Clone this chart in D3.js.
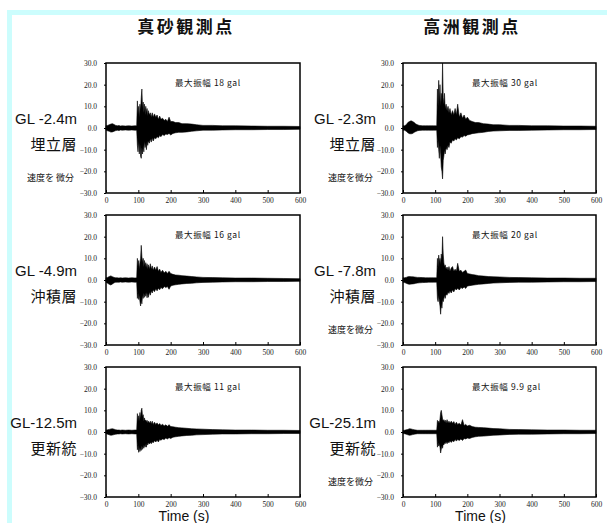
<!DOCTYPE html>
<html lang="ja">
<head>
<meta charset="UTF-8">
<title>真砂・高洲 観測点 加速度波形</title>
<script src="https://d3js.org/d3.v7.min.js"></script>
<style>
  body { margin: 0; background: #fff; }
  svg { display: block; }
  .tick text { font-family: "Liberation Serif", "DejaVu Serif", serif; font-size: 7.5px; fill: #222; }
  .lbl { font-family: "Liberation Sans", Arial, sans-serif; fill: #111; }
  .jp { font-family: "Noto Sans CJK JP", sans-serif; fill: #111; }
</style>
</head>
<body>
<div id="chart"></div>
<script>
// ---- data ----
const stations = ["真砂観測点", "高洲観測点"];
const depths = [["GL -2.4m", "GL -4.9m", "GL-12.5m"], ["GL -2.3m", "GL -7.8m", "GL-25.1m"]];
const layers = ["埋立層", "沖積層", "更新統"];
const maxAmp = [["18", "16", "11"], ["30", "20", "9.9"]];
const diffNote = [[true, false, false], [true, true, true]];
const yTicks = [-30, -20, -10, 0, 10, 20, 30];
const xTicks = [0, 100, 200, 300, 400, 500, 600];

// time points (s) for the waveform envelopes
const times = [0, 5, 10, 15, 20, 25, 30, 35, 40, 45, 50,
  60, 70, 80, 90, 95,
  97, 99, 101, 103, 105, 107, 109, 111, 113, 115, 117, 119, 121, 123, 125, 127, 129, 131,
  134, 137, 140, 143, 146,
  150, 154, 158, 162, 166, 170,
  175, 180, 185, 190, 195, 200,
  207, 215, 225, 235, 250, 265, 280,
  300, 330, 360, 400, 450, 500, 550, 600];

// 真砂 GL -2.4m
const masagoHi1 = [1.0, 1.2, 1.5, 1.8, 2.0, 1.6, 1.2, 1.0, 1.1, 0.9, 1.0,
  0.9, 1.0, 0.9, 1.0, 1.0,
  12.5, 6, 10, 5, 11, 8, 14, 18, 9, 12, 7, 11, 6, 10, 7, 9, 5.5, 8,
  6, 7, 5, 7, 5,
  6.5, 5, 6, 4, 5.5, 4,
  4.5, 3.5, 4, 3, 5, 3,
  3, 2.5, 2.5, 2, 2, 1.8, 1.5,
  1.2, 1.2, 1, 1, 0.9, 0.8, 0.8, 0.7];
const masagoLo1 = [-1.0, -1.3, -1.5, -1.9, -1.8, -1.5, -1.2, -1.0, -1.2, -0.9, -1.0,
  -0.9, -1.0, -0.9, -1.0, -1.0,
  -8, -11, -6, -12, -7, -13, -14, -9, -12, -8, -11, -6, -9, -7, -10, -6, -8, -6,
  -7, -5, -6.5, -4.5, -6,
  -4.5, -5, -4, -4.5, -3.5, -4,
  -3, -3.5, -2.8, -3, -2.5, -3.2,
  -2.5, -2.2, -2, -2, -1.8, -1.5, -1.3,
  -1, -1, -0.9, -0.8, -0.8, -0.7, -0.7, -0.6];

// 真砂 GL -4.9m
const masagoHi2 = [1.0, 1.2, 1.6, 1.9, 1.5, 1.2, 1.0, 1.0, 0.9, 1.0, 0.9,
  1.0, 0.9, 1.0, 0.9, 1.0,
  10, 6, 9, 5, 8, 10, 16, 11, 8, 10, 6, 9, 6, 8, 5.5, 7.5, 5, 7,
  5, 7.5, 5, 6.5, 4.5,
  6, 4.5, 6.2, 4, 5, 3.5,
  4.5, 3.2, 4, 3, 4, 3,
  2.6, 2.3, 2.2, 2, 1.8, 1.6, 1.4,
  1.2, 1.1, 1, 0.9, 0.9, 0.8, 0.7, 0.6];
const masagoLo2 = [-1.0, -1.5, -2.0, -2.3, -1.8, -1.3, -1.0, -1.0, -1.0, -0.9, -1.0,
  -0.9, -1.0, -0.9, -1.0, -1.0,
  -8.5, -6, -9, -7, -10, -12, -9, -11, -7, -8.5, -6, -8, -6, -7.5, -5.5, -8.2, -6, -8,
  -5.5, -7, -5, -6, -4.5,
  -5.4, -4, -5, -3.8, -4.5, -3.5,
  -4, -3, -3.5, -3, -4.3, -2.8,
  -2.4, -2.2, -2, -1.8, -1.6, -1.5, -1.3,
  -1.1, -1, -0.9, -0.8, -0.8, -0.7, -0.7, -0.6];

// 真砂 GL-12.5m
const masagoHi3 = [0.8, 1.0, 1.2, 1.4, 1.5, 1.3, 1.0, 0.9, 0.9, 0.8, 0.9,
  0.8, 0.9, 0.8, 0.9, 0.9,
  8.5, 5, 7.5, 5, 9, 6, 10, 11, 7, 8, 5, 6.5, 5, 5.5, 4.5, 5.4, 4, 5,
  4, 5, 3.8, 5, 3.5,
  4.5, 3.5, 4.2, 3.2, 3.9, 3,
  3.6, 2.8, 3.3, 2.6, 3.4, 2.5,
  2.4, 2.2, 2, 1.9, 1.7, 1.5, 1.4,
  1.3, 1.1, 1, 0.9, 0.9, 0.8, 0.8, 0.7];
const masagoLo3 = [-0.8, -1.0, -1.3, -1.5, -1.4, -1.2, -1.0, -0.9, -0.9, -0.8, -0.9,
  -0.8, -0.9, -0.8, -0.9, -0.9,
  -8.2, -6, -9.4, -7, -9, -7.5, -8.5, -6.5, -8, -6, -7.5, -6, -7, -5.5, -7, -5, -6, -5,
  -5.5, -4.8, -5.4, -4.5, -5,
  -4, -4.6, -3.8, -4.6, -3.5, -3.8,
  -3.2, -3.5, -2.8, -3.2, -2.6, -3,
  -2.4, -2.2, -2, -1.8, -1.6, -1.5, -1.3,
  -1.2, -1, -0.9, -0.9, -0.8, -0.8, -0.7, -0.7];

// 高洲 GL -2.3m
const takasuHi1 = [1.0, 1.0, 1.5, 2.5, 3.0, 3.3, 3.0, 2.5, 1.8, 1.5, 1.2,
  1.0, 1.0, 1.0, 1.0, 1.0,
  1.0, 1.0, 1.0, 1.0, 1.2, 18, 10, 22, 12, 20, 10, 16, 12, 30, 14, 11, 16, 9,
  11, 8, 10, 7, 9,
  6, 8, 6, 9, 6, 11,
  5, 7, 4.5, 6, 4, 5,
  3.5, 3, 2.5, 2.5, 2, 1.8, 1.5,
  1.5, 1.2, 1.2, 1, 1, 0.9, 0.9, 0.8];
const takasuLo1 = [-1.0, -1.0, -1.5, -2.2, -2.6, -2.7, -2.5, -2.0, -1.6, -1.3, -1.1,
  -1.0, -1.0, -1.0, -1.0, -1.0,
  -1.0, -1.0, -1.0, -1.0, -1.2, -9, -6, -10, -14, -8, -12, -18, -20, -23.5, -15, -13, -10, -12,
  -9, -10, -8, -9, -6.5,
  -7, -5.5, -6, -5, -5.5, -4.5,
  -5, -4, -4.2, -3.5, -3.8, -3.2,
  -3, -2.6, -2.4, -2.2, -2, -1.6, -1.4,
  -1.3, -1.1, -1.1, -1, -0.9, -0.8, -0.8, -0.7];

// 高洲 GL -7.8m
const takasuHi2 = [1.0, 1.0, 1.2, 1.5, 1.6, 1.5, 1.5, 1.4, 1.3, 1.2, 1.2,
  1.1, 1.0, 1.0, 1.0, 1.0,
  1.0, 1.0, 1.0, 1.0, 1.1, 10, 6, 11.5, 8, 10, 7, 12, 9, 20, 12, 8, 6, 7,
  5, 6, 4.5, 6.2, 4,
  5.5, 6.2, 4, 5, 4, 7.7,
  4, 4.5, 3.5, 4, 4.6, 3,
  2.8, 2.5, 2.3, 2, 1.8, 1.6, 1.5,
  1.4, 1.2, 1.1, 1, 0.9, 0.9, 0.8, 0.8];
const takasuLo2 = [-1.0, -1.2, -1.5, -1.8, -2.0, -1.9, -1.8, -1.7, -1.5, -1.4, -1.3,
  -1.2, -1.1, -1.0, -1.0, -1.0,
  -1.0, -1.0, -1.0, -1.0, -1.1, -8.5, -10, -7, -10, -12, -15.8, -11, -13, -9, -10, -8.5, -7, -8.5,
  -6.5, -7, -5.5, -6.2, -5,
  -6, -4.5, -5.5, -4, -4.6, -3.8,
  -4.6, -3.5, -3.9, -3.2, -3.9, -2.8,
  -2.6, -2.4, -2.2, -2, -1.8, -1.6, -1.4,
  -1.3, -1.1, -1, -1, -0.9, -0.8, -0.8, -0.7];

// 高洲 GL-25.1m
const takasuHi3 = [0.7, 0.8, 1.0, 1.2, 1.5, 1.4, 1.2, 1.0, 0.9, 0.8, 0.8,
  0.8, 0.8, 0.8, 0.8, 0.8,
  0.8, 0.8, 0.8, 0.8, 0.9, 5.4, 4, 5, 4, 6, 9, 10, 8, 6, 5, 5.7, 4.5, 5.5,
  4.2, 5.7, 4.2, 5, 4,
  5, 4, 4.8, 3.5, 4.5, 3.5,
  4, 3.2, 5.7, 3, 3.5, 2.8,
  3.1, 2.5, 2.2, 2.1, 2, 1.8, 1.6,
  1.5, 1.2, 1.1, 1, 0.9, 0.9, 0.8, 0.8];
const takasuLo3 = [-0.7, -0.8, -1.0, -1.3, -1.5, -1.4, -1.2, -1.0, -0.9, -0.8, -0.8,
  -0.8, -0.8, -0.8, -0.8, -0.8,
  -0.8, -0.8, -0.8, -0.8, -0.9, -7, -5, -6.5, -5.5, -7, -9.7, -8, -6.5, -7.5, -5.5, -6, -5, -5.4,
  -4.5, -5.4, -4.5, -5, -4,
  -4.8, -4, -4.5, -3.5, -4.2, -3.5,
  -3.9, -3.2, -3.9, -3, -3.2, -2.8,
  -3, -2.5, -2.2, -2, -1.9, -1.7, -1.5,
  -1.4, -1.1, -1, -1, -0.9, -0.8, -0.8, -0.7];

const upper = [[masagoHi1, masagoHi2, masagoHi3], [takasuHi1, takasuHi2, takasuHi3]];
const lower = [[masagoLo1, masagoLo2, masagoLo3], [takasuLo1, takasuLo2, takasuLo3]];

// ---- layout ----
const W = 607, H = 523;
const colX = [[106, 300], [403, 596]];
const rowY = [63, 215, 367];
const plotH = 130;

const svg = d3.select("#chart").append("svg").attr("width", W).attr("height", H);

// light cyan frame
svg.append("rect").attr("x", 7).attr("y", 10).attr("width", W - 7).attr("height", 5).attr("fill", "#ccfdfd");
svg.append("rect").attr("x", 7).attr("y", 10).attr("width", 5).attr("height", H - 10).attr("fill", "#ccfdfd");

// station titles
stations.forEach((s, c) => {
  svg.append("text").attr("class", "jp")
    .attr("x", [186, 472][c]).attr("y", 33)
    .attr("text-anchor", "middle")
    .attr("font-size", 17).attr("font-weight", "bold").attr("letter-spacing", 2.5)
    .text(s);
});

for (let c = 0; c < 2; c++) {
  for (let r = 0; r < 3; r++) {
    const x = d3.scaleLinear().domain([0, 600]).range(colX[c]);
    const y = d3.scaleLinear().domain([-30, 30]).range([rowY[r] + plotH, rowY[r]]);
    const g = svg.append("g");
    const labX = c === 0 ? 77 : 376;

    // axes
    g.append("g").attr("transform", `translate(0,${rowY[r] + plotH})`)
      .call(d3.axisBottom(x).tickValues(xTicks).tickSizeInner(-3).tickSizeOuter(0).tickPadding(5))
      .call(a => a.select(".domain").remove());
    g.append("g").attr("transform", `translate(${colX[c][0]},0)`)
      .call(d3.axisLeft(y).tickValues(yTicks).tickFormat(d3.format(".1f")).tickSizeInner(2).tickSizeOuter(0).tickPadding(7))
      .call(a => a.select(".domain").remove());

    // waveform envelope
    const pts = times.map((t, i) => ({ t, hi: upper[c][r][i], lo: lower[c][r][i] }));
    g.append("path").datum(pts)
      .attr("fill", "#000").attr("stroke", "#000").attr("stroke-width", 0.6)
      .attr("d", d3.area().x(d => x(d.t)).y0(d => y(d.lo)).y1(d => y(d.hi)));
    g.append("line")
      .attr("x1", x(0)).attr("x2", x(600)).attr("y1", y(0)).attr("y2", y(0))
      .attr("stroke", "#000").attr("stroke-width", 1.5);

    // frame
    g.append("rect")
      .attr("x", colX[c][0]).attr("y", rowY[r])
      .attr("width", colX[c][1] - colX[c][0]).attr("height", plotH)
      .attr("fill", "none").attr("stroke", "#000").attr("stroke-width", 1.5);

    // annotation
    g.append("text").attr("class", "jp")
      .attr("x", colX[c][0] + 69).attr("y", rowY[r] + 23)
      .attr("font-size", 8.5).attr("letter-spacing", 0.6)
      .text(`最大振幅 ${maxAmp[c][r]} gal`);

    // side labels
    g.append("text").attr("class", "lbl")
      .attr("x", labX).attr("y", rowY[r] + 61)
      .attr("text-anchor", "end").attr("font-size", 15)
      .text(depths[c][r]);
    g.append("text").attr("class", "jp")
      .attr("x", labX).attr("y", rowY[r] + 87)
      .attr("text-anchor", "end").attr("font-size", 15).attr("letter-spacing", 0.5)
      .text(layers[r]);
    if (diffNote[c][r]) {
      g.append("text").attr("class", "jp")
        .attr("x", labX - 3).attr("y", rowY[r] + 118)
        .attr("text-anchor", "end").attr("font-size", 9)
        .text(c === 0 ? "速度を 微分" : "速度を微分");
    }
  }
  // x-axis title
  svg.append("text").attr("class", "lbl")
    .attr("x", (colX[c][0] + colX[c][1]) / 2 - 19).attr("y", 521)
    .attr("text-anchor", "middle").attr("font-size", 14)
    .text("Time (s)");
}
</script>
</body>
</html>
